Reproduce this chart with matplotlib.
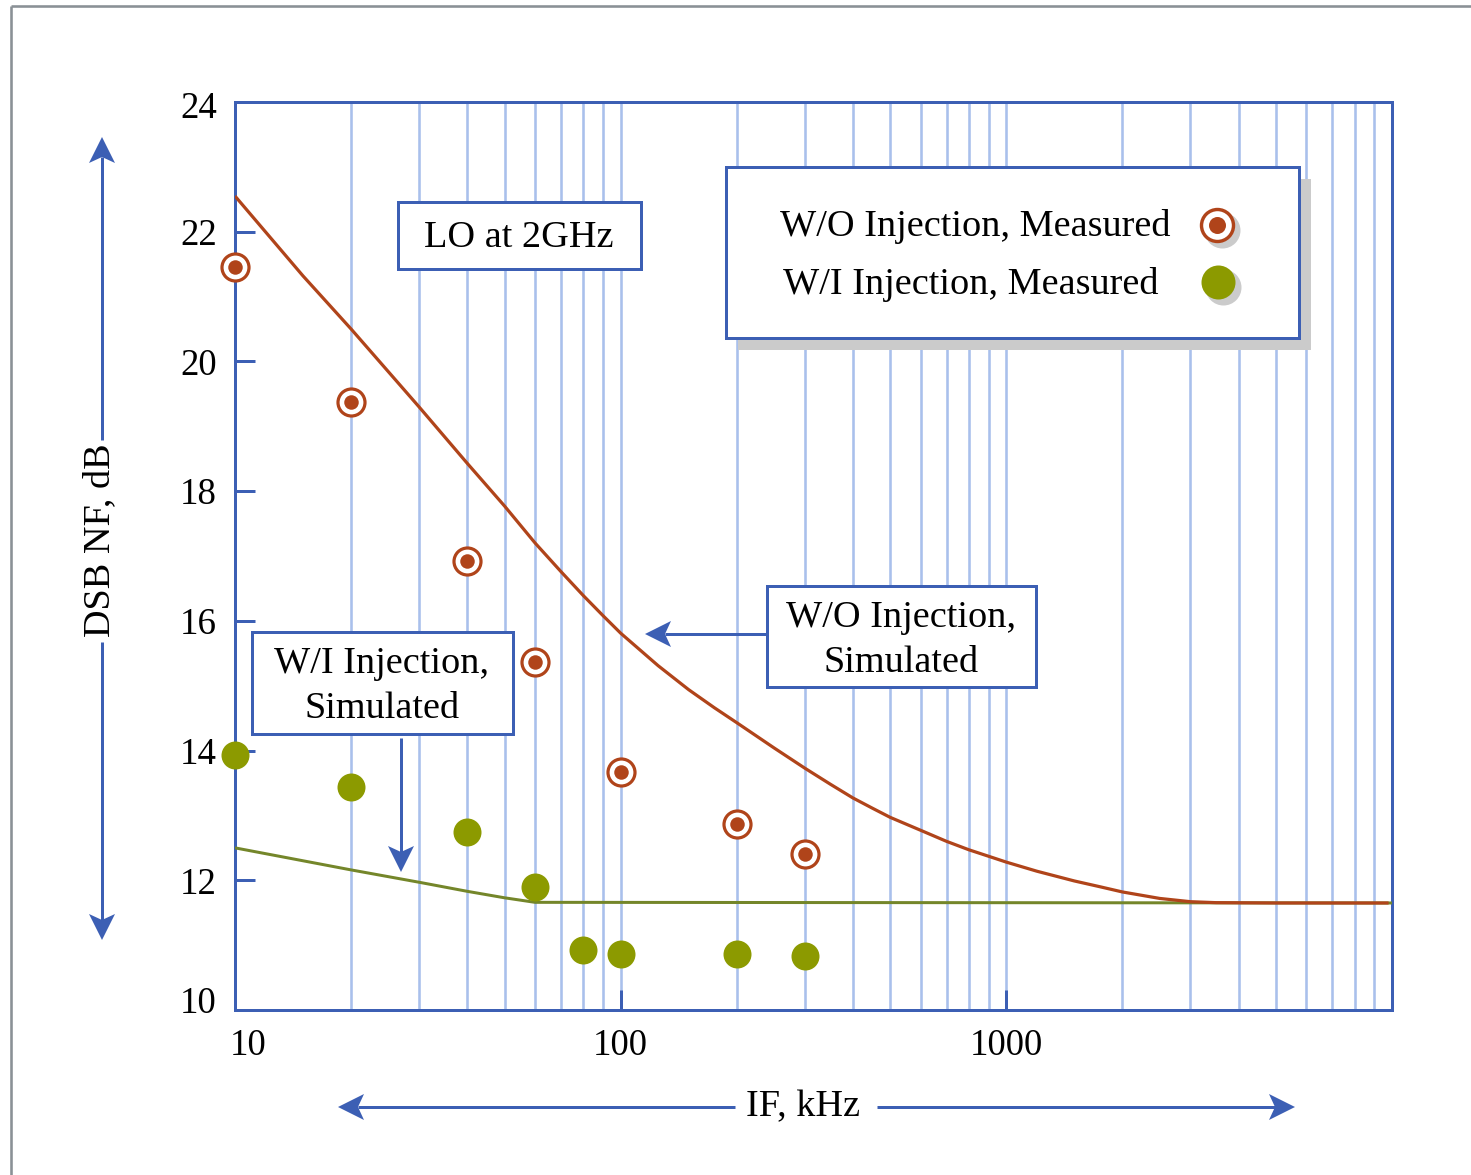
import matplotlib
matplotlib.use('Agg')
import matplotlib.pyplot as plt
import numpy as np
from matplotlib.patches import Rectangle, Polygon
from matplotlib.lines import Line2D
from matplotlib.ticker import FixedLocator, FixedFormatter, NullFormatter
from matplotlib.transforms import ScaledTranslation

plt.rcParams['font.family'] = ['Liberation Serif', 'DejaVu Serif']

# ---------------- data ----------------
wo_meas_x = [10, 20, 40, 60, 100, 200, 300]
wo_meas_y = [21.45, 19.38, 16.92, 15.37, 13.67, 12.87, 12.41]

wi_meas_x = [10, 20, 40, 60, 80, 100, 200, 300]
wi_meas_y = [13.93, 13.44, 12.75, 11.90, 10.93, 10.86, 10.86, 10.84]

wo_sim_x = [10, 15, 20, 30, 40, 50, 60, 70, 80, 90, 100, 125, 150, 175, 200,
            250, 300, 350, 400, 450, 500, 600, 700, 800, 900, 1000, 1200,
            1500, 1750, 2000, 2500, 3000, 3500, 5000, 9800]
wo_sim_y = [22.55, 21.32, 20.50, 19.30, 18.43, 17.77, 17.20, 16.76, 16.39,
            16.08, 15.81, 15.31, 14.94, 14.66, 14.43, 14.04, 13.73, 13.48,
            13.27, 13.11, 12.97, 12.77, 12.60, 12.47, 12.37, 12.28, 12.14,
            11.99, 11.90, 11.82, 11.72, 11.67, 11.655, 11.65, 11.65]

wi_sim_x = [10, 20, 30, 40, 50, 60, 10000]
wi_sim_y = [12.50, 12.16, 11.97, 11.83, 11.73, 11.66, 11.65]

x_major = [10, 100, 1000]
x_major_labels = ['10', '100', '1000']
y_ticks = [10, 12, 14, 16, 18, 20, 22, 24]
y_labels = ['10', '12', '14', '16', '18', '20', '22', '24']

legend_labels = ['W/O Injection, Measured', 'W/I Injection, Measured']
lo_text = 'LO at 2GHz'
wo_sim_text = 'W/O Injection,\nSimulated'
wi_sim_text = 'W/I Injection,\nSimulated'
xlabel = 'IF, kHz'
ylabel = 'DSB NF, dB'

# ---------------- styles ----------------
ORANGE = '#B0441A'
GREEN = '#8C9A00'
GREEN_LINE = '#74862A'
BLUE = '#3C5FB4'
GRID = '#A9C0EC'
GRAY_FRAME = '#8A9196'
SHADOW = '#CBCBCB'
FS = 27.5
TFS = 26.5

W, H = 1471, 1175
DPI = 100
PX = 72.0 / DPI  # points per pixel

fig = plt.figure(figsize=(W / DPI, H / DPI), dpi=DPI)


def fx(x):
    return x / W


def fy(y):
    return 1 - y / H


ax = fig.add_axes([fx(235), fy(1010), (1392 - 235) / W, (1010 - 102) / H])
ax.set_xscale('log')
ax.set_xlim(10, 10000)
ax.set_ylim(10, 24)

for s in ax.spines.values():
    s.set_color(BLUE)
    s.set_linewidth(3 * PX)

ax.xaxis.set_major_locator(FixedLocator(x_major))
ax.xaxis.set_major_formatter(FixedFormatter(x_major_labels))
minors = [m * 10 ** k for k in range(1, 4) for m in range(2, 10)]
ax.xaxis.set_minor_locator(FixedLocator(minors))
ax.xaxis.set_minor_formatter(NullFormatter())
ax.grid(True, which='both', axis='x', color=GRID, lw=2.6 * PX, zorder=0)
ax.set_axisbelow(True)
ax.tick_params(axis='x', which='major', direction='in', length=20 * PX,
               width=3 * PX, color=BLUE, labelsize=TFS, pad=13)
ax.tick_params(axis='x', which='minor', length=0)
ax.yaxis.set_major_locator(FixedLocator(y_ticks))
ax.yaxis.set_major_formatter(FixedFormatter(y_labels))
ax.tick_params(axis='y', direction='in', length=20 * PX, width=3 * PX,
               color=BLUE, labelsize=TFS, pad=13)

# curves
ax.plot(wi_sim_x, wi_sim_y, color=GREEN_LINE, lw=3 * PX, zorder=3,
        solid_capstyle='butt', solid_joinstyle='round')
ax.plot(wo_sim_x, wo_sim_y, color=ORANGE, lw=3.2 * PX, zorder=4,
        solid_capstyle='butt', solid_joinstyle='round')

# measured points
ax.plot(wo_meas_x, wo_meas_y, ls='none', marker='o', ms=27 * PX, mfc='white',
        mec=ORANGE, mew=3.2 * PX, zorder=5, clip_on=False)
ax.plot(wo_meas_x, wo_meas_y, ls='none', marker='o', ms=14.5 * PX, mfc=ORANGE,
        mew=0, zorder=6, clip_on=False)
ax.plot(wi_meas_x, wi_meas_y, ls='none', marker='o', ms=28 * PX, mfc=GREEN,
        mew=0, zorder=5, clip_on=False)

fig.canvas.draw()
# small label offsets as in the reference
xl = ax.get_xticklabels()
xl[0].set_transform(xl[0].get_transform() + ScaledTranslation(13 / DPI, 0, fig.dpi_scale_trans))
yl = ax.get_yticklabels()
yl[0].set_transform(yl[0].get_transform() + ScaledTranslation(0, 10 / DPI, fig.dpi_scale_trans))
yl[-1].set_transform(yl[-1].get_transform() + ScaledTranslation(0, -3 / DPI, fig.dpi_scale_trans))


# ---------------- figure-level decorations ----------------
def fline(xs, ys, color, lw, z=5):
    fig.add_artist(Line2D([fx(v) for v in xs], [fy(v) for v in ys],
                          transform=fig.transFigure, color=color, lw=lw,
                          zorder=z, solid_capstyle='butt'))


def arrow(x0, y0, x1, y1):
    d = np.array([x1 - x0, y1 - y0], float)
    d /= np.hypot(*d)
    n = np.array([-d[1], d[0]])
    L, hw, notch = 26, 13, 6
    tip = np.array([x1, y1], float)
    base = tip - (L - notch) * d
    fline([x0, base[0]], [y0, base[1]], BLUE, 3 * PX, z=6)
    pts = [tip, tip - L * d + hw * n, base, tip - L * d - hw * n]
    fig.add_artist(Polygon([(fx(p[0]), fy(p[1])) for p in pts], closed=True,
                           transform=fig.transFigure, fc=BLUE, ec='none',
                           zorder=6))


def fbox(x0, y0, x1, y1, fc='white', ec=BLUE, lw=3 * PX, z=5):
    fig.add_artist(Rectangle((fx(x0), fy(y1)), (x1 - x0) / W, (y1 - y0) / H,
                             transform=fig.transFigure, fc=fc, ec=ec, lw=lw,
                             zorder=z))


def ftext(x, y, s, **kw):
    fig.text(fx(x), fy(y), s, ha='center', va='center', fontsize=FS,
             zorder=7, linespacing=1.4, **kw)


# outer frame
fline([11, 11], [1175, 6], GRAY_FRAME, 2.6 * PX)
fline([11, 1471], [6, 6], GRAY_FRAME, 2.6 * PX)

# legend box with shadow
fbox(738, 179, 1311, 350, fc=SHADOW, ec='none', z=4)
fbox(726, 167, 1299, 338)
ftext(975, 226, legend_labels[0])
ftext(971, 285, legend_labels[1])
for (cx, cy), kind in [((1217, 225), 'wo'), ((1218, 282), 'wi')]:
    fig.add_artist(Line2D([fx(cx + 5)], [fy(cy + 5)], transform=fig.transFigure,
                          marker='o', ms=36 * PX, mfc=SHADOW, mew=0, ls='none',
                          zorder=6))
    if kind == 'wo':
        fig.add_artist(Line2D([fx(cx)], [fy(cy)], transform=fig.transFigure,
                              marker='o', ms=32 * PX, mfc='white', mec=ORANGE,
                              mew=3.4 * PX, ls='none', zorder=7))
        fig.add_artist(Line2D([fx(cx)], [fy(cy)], transform=fig.transFigure,
                              marker='o', ms=17 * PX, mfc=ORANGE, mew=0,
                              ls='none', zorder=8))
    else:
        fig.add_artist(Line2D([fx(cx)], [fy(cy)], transform=fig.transFigure,
                              marker='o', ms=34 * PX, mfc=GREEN, mew=0,
                              ls='none', zorder=7))

# LO box
fbox(398, 202, 641, 269)
ftext(519, 238, lo_text)

# W/O simulated annotation
fbox(767, 586, 1036, 687)
ftext(901, 640, wo_sim_text)
arrow(767, 634, 645, 634)

# W/I simulated annotation
fbox(252, 632, 513, 734)
ftext(382, 686, wi_sim_text)
arrow(401, 738, 401, 872)

# axis labels with arrows
ftext(803, 1107, xlabel)
arrow(735, 1107, 338, 1107)
arrow(877, 1107, 1295, 1107)

ftext(100, 540, ylabel, rotation=90)
arrow(102, 440, 102, 137)
arrow(102, 642, 102, 940)

fig.savefig('out.png', dpi=DPI)
